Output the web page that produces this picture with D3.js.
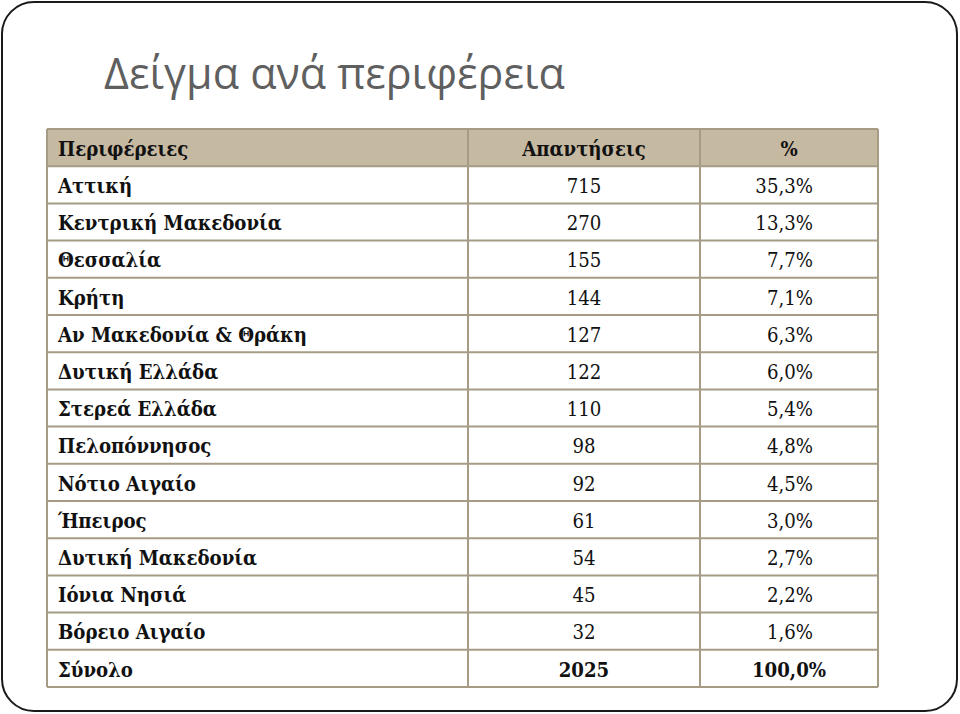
<!DOCTYPE html>
<html>
<head>
<meta charset="utf-8">
<script src="https://cdn.jsdelivr.net/npm/d3@7"></script>
<style>
  body { margin: 0; background: #fff; }
</style>
</head>
<body>
<div id="chart"></div>
<script>
// data
var title = "Δείγμα ανά περιφέρεια";
var headers = ["Περιφέρειες", "Απαντήσεις", "%"];
var regions = ["Αττική", "Κεντρική Μακεδονία", "Θεσσαλία", "Κρήτη",
               "Αν Μακεδονία & Θράκη", "Δυτική Ελλάδα", "Στερεά Ελλάδα",
               "Πελοπόννησος", "Νότιο Αιγαίο", "Ήπειρος", "Δυτική Μακεδονία",
               "Ιόνια Νησιά", "Βόρειο Αιγαίο"];
var responses = [715, 270, 155, 144, 127, 122, 110, 98, 92, 61, 54, 45, 32];
var percents = [35.3, 13.3, 7.7, 7.1, 6.3, 6.0, 5.4, 4.8, 4.5, 3.0, 2.7, 2.2, 1.6];
var totalLabel = "Σύνολο";
var totalResponses = 2025;
var totalPercent = 100.0;

var width = 960, height = 714;
var serif = "'DejaVu Serif Condensed', 'DejaVu Serif', serif";
var locale = d3.formatLocale({decimal: ",", thousands: ".", grouping: [3], currency: ["", "€"]});
var fmtPct = function(v) { return locale.format(".1f")(v) + "%"; };

var svg = d3.select("#chart").append("svg")
    .attr("width", width)
    .attr("height", height);

// slide frame
svg.append("rect")
    .attr("x", 2).attr("y", 2)
    .attr("width", 955).attr("height", 709)
    .attr("rx", 32).attr("ry", 32)
    .style("fill", "#fff")
    .style("stroke", "#1a1a1a")
    .style("stroke-width", 2);

// title, sized to span its slide width
var titleText = svg.append("text")
    .attr("x", 104).attr("y", 89)
    .style("font-family", "'Open Sans', sans-serif")
    .style("font-size", "36px")
    .style("fill", "#5f5f5f")
    .text(title);
var tw = titleText.node().getComputedTextLength();
titleText.style("font-size", (36 * 461 / tw) + "px");

// table rows: header, regions, total
var rows = [{cells: headers, kind: "header"}];
regions.forEach(function(r, i) {
    rows.push({cells: [r, String(responses[i]), fmtPct(percents[i])], kind: "body"});
});
rows.push({cells: [totalLabel, String(totalResponses), fmtPct(totalPercent)], kind: "total"});

var y = d3.scaleBand()
    .domain(d3.range(rows.length))
    .range([129, 687]);

var colEdges = [47, 468, 700, 878];
var x = d3.scaleOrdinal().domain([0, 1, 2]).range(colEdges.slice(0, 3));
var colW = function(c) { return colEdges[c + 1] - colEdges[c]; };

var table = svg.append("g").attr("class", "table");

// header fill
table.append("rect")
    .attr("x", colEdges[0]).attr("y", y(0))
    .attr("width", colEdges[3] - colEdges[0]).attr("height", y.bandwidth())
    .style("fill", "#c6b9a2");

// font size fitted so the longest region name matches the slide
var probe = svg.append("text")
    .style("font-family", serif)
    .style("font-weight", "bold")
    .style("font-size", "20px")
    .text("Κεντρική Μακεδονία");
var fontSize = 20 * 224 / probe.node().getComputedTextLength();
probe.remove();

var row = table.selectAll(".row")
    .data(rows)
  .enter().append("g")
    .attr("class", "row")
    .attr("transform", function(d, i) { return "translate(0," + y(i) + ")"; });

row.selectAll(".cell")
    .data(function(d) {
        return d.cells.map(function(t, c) { return {text: t, col: c, kind: d.kind}; });
    })
  .enter().append("text")
    .attr("class", "cell")
    .attr("x", function(d) {
        if (d.col === 0) return x(0) + 11;
        if (d.col === 1) return x(1) + colW(1) / 2;
        if (d.kind === "body") return colEdges[3] - 65;
        return x(2) + colW(2) / 2;
    })
    .attr("y", y.bandwidth() * 0.72)
    .attr("text-anchor", function(d) {
        if (d.col === 0) return "start";
        if (d.col === 1) return "middle";
        return d.kind === "body" ? "end" : "middle";
    })
    .style("font-family", serif)
    .style("font-size", fontSize + "px")
    .style("font-weight", function(d) {
        return (d.col === 0 || d.kind !== "body") ? "bold" : "normal";
    })
    .style("fill", "#111")
    .text(function(d) { return d.text; });

// grid lines
var lineColor = "#a69c86";
table.selectAll(".hline")
    .data(d3.range(rows.length + 1))
  .enter().append("line")
    .attr("class", "hline")
    .attr("x1", colEdges[0]).attr("x2", colEdges[3])
    .attr("y1", function(i) { return i < rows.length ? y(i) : y(rows.length - 1) + y.bandwidth(); })
    .attr("y2", function(i) { return i < rows.length ? y(i) : y(rows.length - 1) + y.bandwidth(); })
    .style("stroke", lineColor)
    .style("stroke-width", 2);

table.selectAll(".vline")
    .data(colEdges)
  .enter().append("line")
    .attr("class", "vline")
    .attr("x1", function(d) { return d; }).attr("x2", function(d) { return d; })
    .attr("y1", y(0)).attr("y2", y(rows.length - 1) + y.bandwidth())
    .style("stroke", lineColor)
    .style("stroke-width", 2);
</script>
</body>
</html>
